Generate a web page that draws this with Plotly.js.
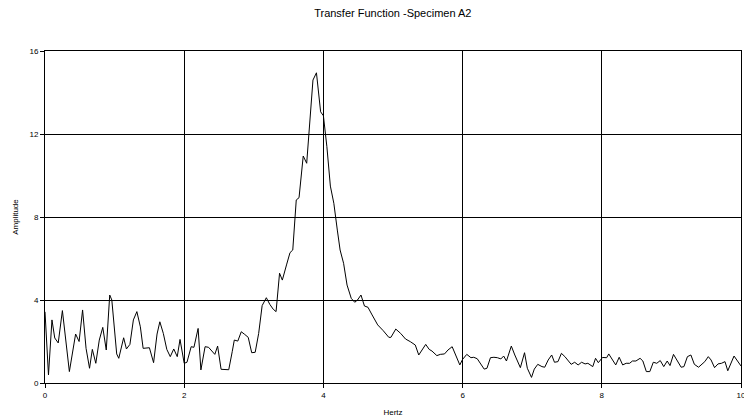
<!DOCTYPE html>
<html>
<head>
<meta charset="utf-8">
<script src="https://cdn.plot.ly/plotly-3.0.1.min.js"></script>
<style>html,body{margin:0;padding:0;background:#fff;}#chart{width:744px;height:420px;}</style>
</head>
<body>
<div id="chart"></div>
<script>
// Frequency (Hz)
const freqHz = [0,0.05,0.1,0.14,0.19,0.25,0.35,0.44,0.49,0.54,0.59,0.64,0.68,0.73,0.78,0.83,0.88,0.93,0.96,1.03,1.06,1.13,1.17,1.22,1.27,1.32,1.37,1.41,1.5,1.56,1.61,1.65,1.7,1.75,1.8,1.85,1.9,1.94,2.0,2.04,2.1,2.14,2.2,2.24,2.3,2.35,2.44,2.48,2.53,2.58,2.64,2.69,2.72,2.77,2.82,2.87,2.92,2.97,3.02,3.07,3.12,3.18,3.23,3.28,3.32,3.37,3.41,3.47,3.52,3.56,3.61,3.65,3.71,3.76,3.8,3.85,3.9,3.96,4.0,4.05,4.1,4.15,4.2,4.24,4.29,4.34,4.4,4.45,4.49,4.54,4.59,4.64,4.7,4.78,4.86,4.94,4.97,5.04,5.11,5.18,5.25,5.32,5.37,5.42,5.47,5.52,5.56,5.63,5.68,5.74,5.79,5.85,5.9,5.96,6.0,6.06,6.12,6.16,6.21,6.26,6.31,6.35,6.4,6.45,6.5,6.55,6.59,6.63,6.7,6.75,6.79,6.83,6.89,6.93,6.99,7.03,7.08,7.14,7.18,7.23,7.28,7.32,7.37,7.42,7.47,7.52,7.56,7.61,7.66,7.71,7.76,7.8,7.87,7.91,7.95,8.01,8.07,8.1,8.15,8.2,8.25,8.3,8.35,8.4,8.44,8.49,8.55,8.59,8.64,8.69,8.74,8.79,8.84,8.89,8.94,8.98,9.03,9.08,9.14,9.18,9.23,9.28,9.33,9.39,9.43,9.48,9.53,9.57,9.62,9.67,9.72,9.77,9.81,9.86,9.9,9.95,10.0];
// Amplitude
const amplitude = [3.43,0.39,3.04,2.17,1.93,3.49,0.55,2.36,2.0,3.52,1.67,0.71,1.62,0.95,2.07,2.68,1.59,4.24,4.0,1.4,1.19,2.18,1.64,1.86,3.04,3.44,2.71,1.67,1.7,0.98,2.36,2.95,2.39,1.62,1.27,1.64,1.27,2.1,0.95,1.0,1.75,1.72,2.63,0.63,1.75,1.72,1.38,1.78,0.66,0.66,0.64,1.51,2.07,2.02,2.47,2.34,2.2,1.46,1.48,2.39,3.73,4.11,3.79,3.55,3.44,5.29,4.96,5.69,6.28,6.41,8.82,8.93,10.94,10.59,12.35,14.6,14.95,13.07,12.88,11.39,9.49,8.66,7.37,6.41,5.77,4.72,4.08,3.89,4.0,4.24,3.71,3.65,3.28,2.8,2.52,2.2,2.2,2.6,2.39,2.12,1.99,1.83,1.35,1.59,1.86,1.62,1.54,1.32,1.38,1.4,1.59,1.75,1.35,0.87,1.14,1.38,1.22,1.24,1.17,0.93,0.67,0.71,1.22,1.24,1.22,1.16,1.3,1.06,1.78,1.35,1.03,0.74,1.46,0.71,0.27,0.67,0.9,0.79,0.76,1.11,1.35,1.0,1.03,1.43,1.27,1.06,0.9,1.0,0.87,1.0,0.92,0.95,0.79,1.19,0.98,1.23,1.22,1.4,1.14,0.87,1.24,0.87,0.95,0.95,1.06,1.06,1.19,1.06,0.55,0.55,1.0,0.95,1.08,0.79,1.06,0.84,1.38,1.11,0.76,0.79,1.27,1.35,0.9,0.76,0.87,1.03,1.27,1.11,0.74,0.92,0.95,1.03,0.59,1.0,1.3,1.06,0.82];
const xTicks = [0,2,4,6,8,10];
const yTicks = [0,4,8,12,16];

const font = "'Liberation Sans', Arial, sans-serif";
const trace = {
  x: freqHz, y: amplitude, type: 'scatter', mode: 'lines',
  line: {color: '#000', width: 1}, hoverinfo: 'skip'
};
const layout = {
  width: 744, height: 420,
  margin: {l: 45, r: 3, t: 51, b: 37},
  paper_bgcolor: '#fff', plot_bgcolor: '#fff',
  showlegend: false,
  font: {family: font, color: '#000', size: 8},
  title: {text: 'Transfer Function -Specimen A2', font: {family: font, size: 11, color: '#000'},
          x: 0.528, xanchor: 'center', y: 0.968, yanchor: 'middle'},
  xaxis: {
    range: [0, 10], tickvals: xTicks, ticktext: xTicks.map(String),
    showgrid: true, gridcolor: '#000', gridwidth: 1,
    zeroline: false, showline: true, linecolor: '#000', linewidth: 1, mirror: true,
    ticks: 'outside', ticklen: 4, tickcolor: '#000', tickfont: {size: 8, family: font},
    ticklabeloverflow: 'allow',
    title: {text: 'Hertz', font: {size: 8, family: font}, standoff: 10}
  },
  yaxis: {
    range: [0, 16], tickvals: yTicks, ticktext: yTicks.map(String),
    showgrid: true, gridcolor: '#000', gridwidth: 1,
    zeroline: false, showline: true, linecolor: '#000', linewidth: 1, mirror: true,
    ticks: 'outside', ticklen: 4, tickcolor: '#000', tickfont: {size: 8, family: font},
    ticklabeloverflow: 'allow',
    title: {text: 'Amplitude', font: {size: 8, family: font}, standoff: 9}
  }
};
Plotly.newPlot('chart', [trace], layout, {staticPlot: true, displayModeBar: false});
</script>
</body>
</html>
